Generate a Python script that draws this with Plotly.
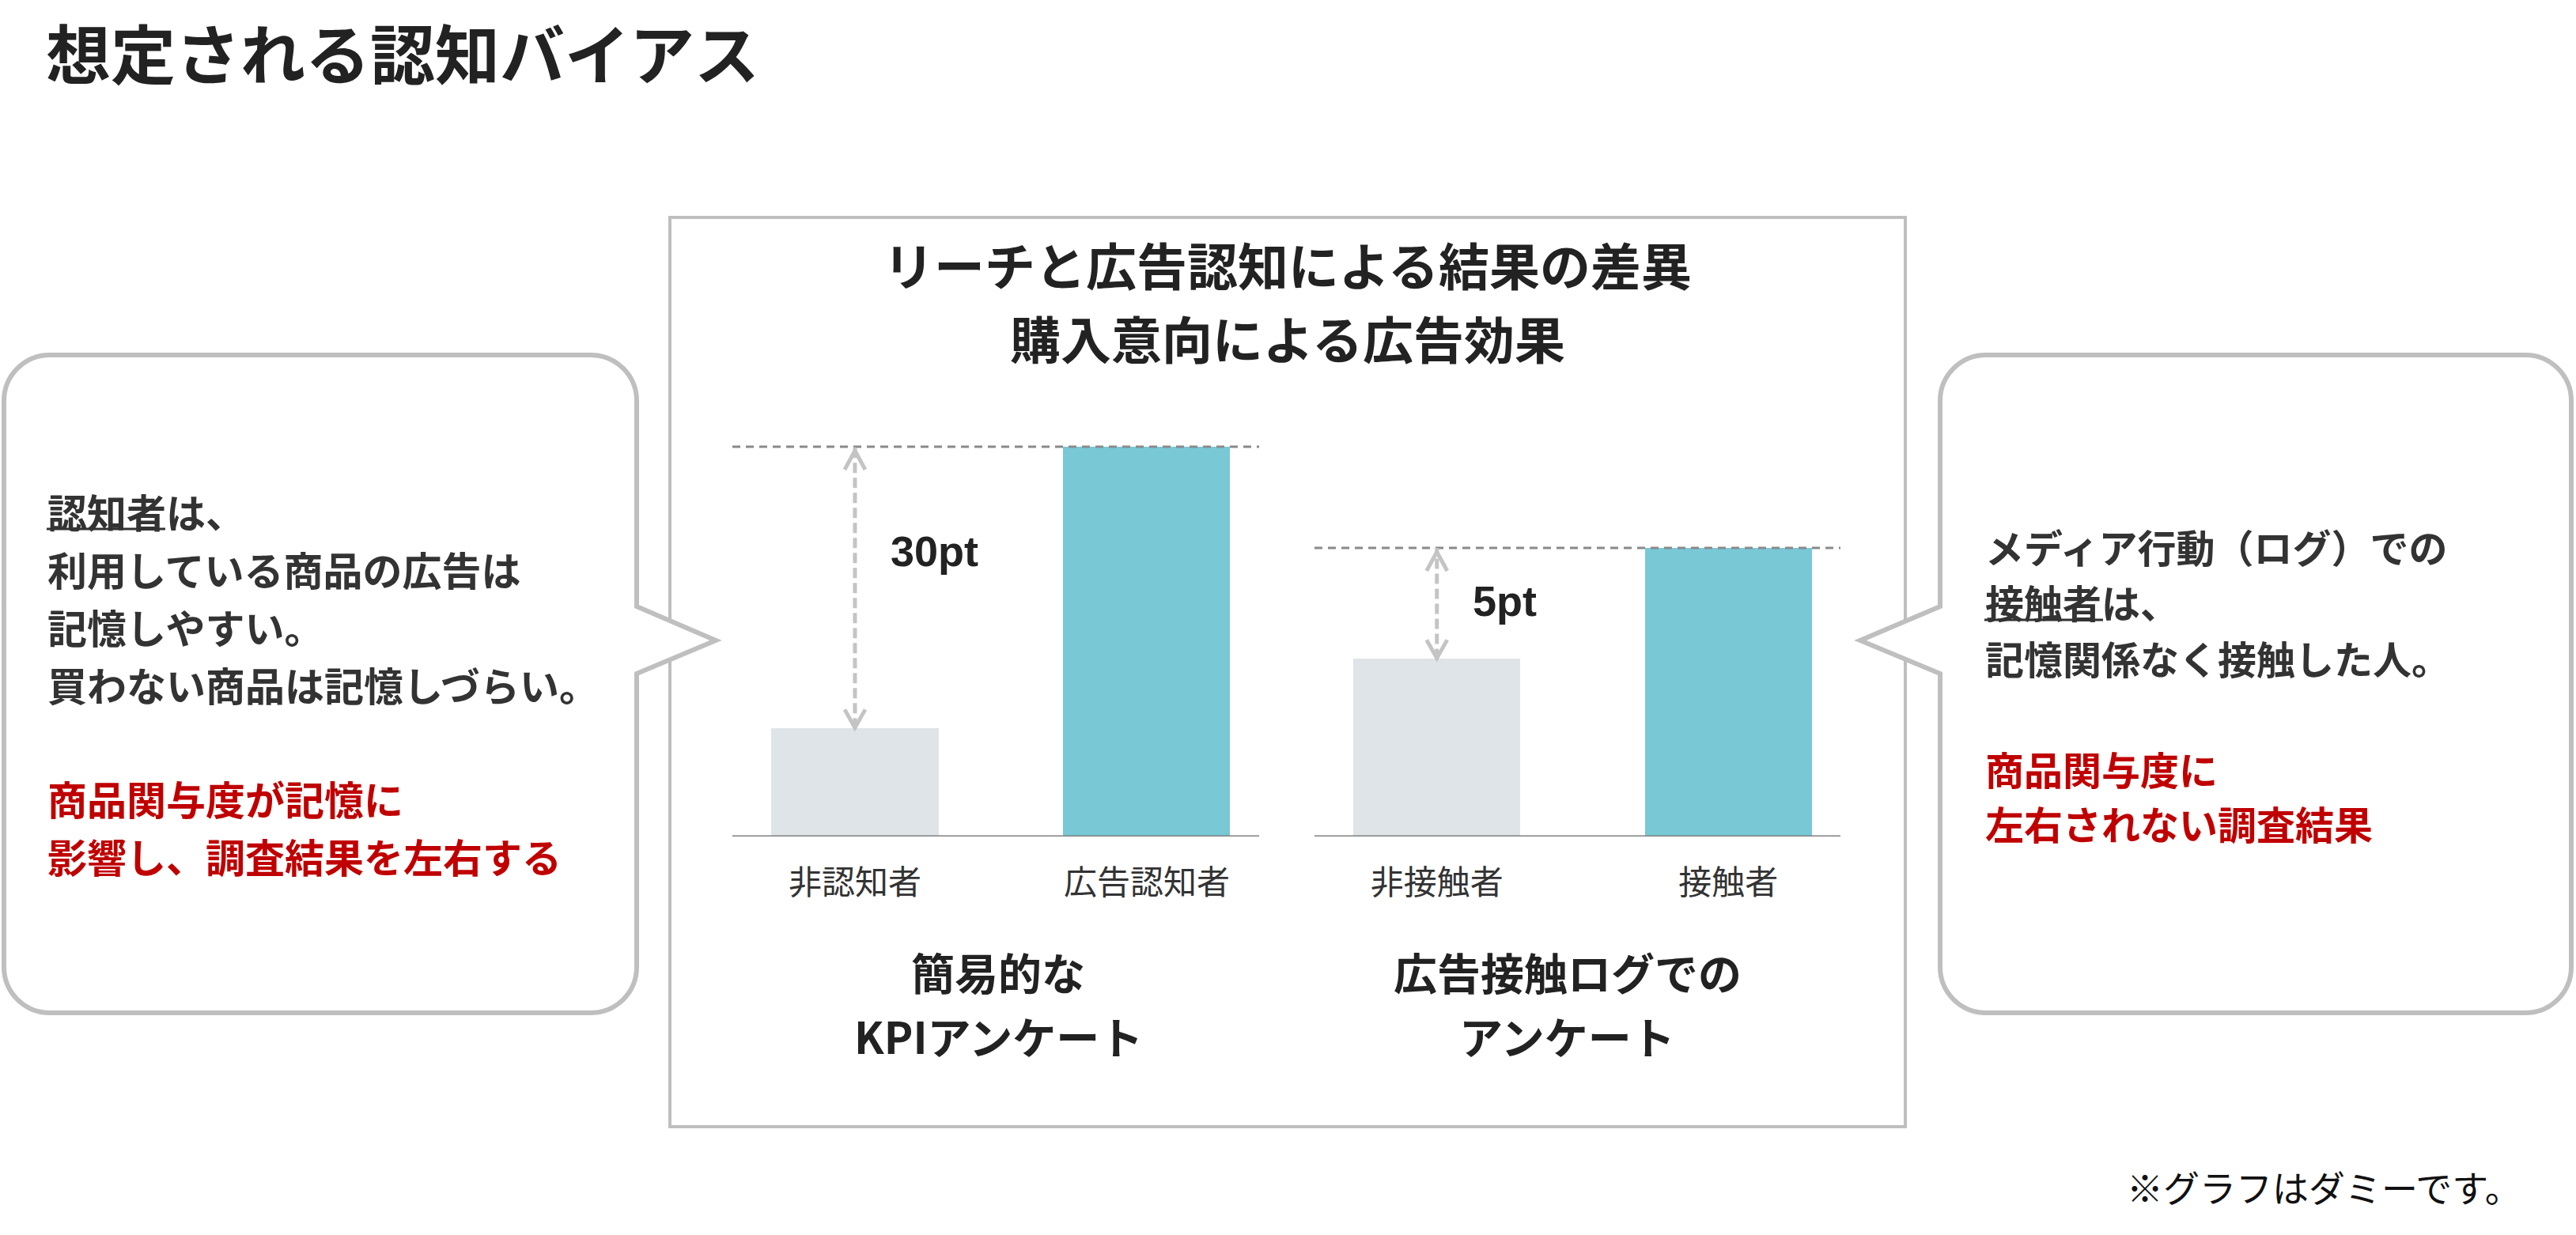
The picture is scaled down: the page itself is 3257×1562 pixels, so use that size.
import plotly.graph_objects as go

W, H = 3257, 1562

# ---------------- data ----------------
kpi_categories = ["非認知者", "広告認知者"]
kpi_values = [11.5, 41.5]
kpi_gap_label = "30pt"

log_categories = ["非接触者", "接触者"]
log_values = [8, 13]
log_gap_label = "5pt"

bar_colors = ["#dfe4e8", "#78c8d6"]

title_text = "想定される認知バイアス"
panel_title_lines = ["リーチと広告認知による結果の差異", "購入意向による広告効果"]
kpi_caption_lines = ["簡易的な", "KPIアンケート"]
log_caption_lines = ["広告接触ログでの", "アンケート"]
left_note_lines = ["認知者は、", "利用している商品の広告は", "記憶しやすい。", "買わない商品は記憶しづらい。"]
left_note_red = ["商品関与度が記憶に", "影響し、調査結果を左右する"]
right_note_lines = ["メディア行動（ログ）での", "接触者は、", "記憶関係なく接触した人。"]
right_note_red = ["商品関与度に", "左右されない調査結果"]
footnote_text = "※グラフはダミーです。"

# ---------------- helpers ----------------
JP = "Noto Sans CJK JP"
DARK = "#333333"
RED = "#c00000"
GRAY_LINE = "#bfbfbf"


def PX(x):
    return x / W


def PY(y):
    return 1 - y / H


def bubble_path(L, T, R, B, r, side, ty0, ty1, tipx, tipy):
    k = 0.5523 * r
    p = f"M {PX(L + r)},{PY(T)} L {PX(R - r)},{PY(T)} "
    p += f"C {PX(R - r + k)},{PY(T)} {PX(R)},{PY(T + r - k)} {PX(R)},{PY(T + r)} "
    if side == "right":
        p += f"L {PX(R)},{PY(ty0)} L {PX(tipx)},{PY(tipy)} L {PX(R)},{PY(ty1)} "
    p += f"L {PX(R)},{PY(B - r)} C {PX(R)},{PY(B - r + k)} {PX(R - r + k)},{PY(B)} {PX(R - r)},{PY(B)} "
    p += f"L {PX(L + r)},{PY(B)} C {PX(L + r - k)},{PY(B)} {PX(L)},{PY(B - r + k)} {PX(L)},{PY(B - r)} "
    if side == "left":
        p += f"L {PX(L)},{PY(ty1)} L {PX(tipx)},{PY(tipy)} L {PX(L)},{PY(ty0)} "
    p += f"L {PX(L)},{PY(T + r)} C {PX(L)},{PY(T + r - k)} {PX(L + r - k)},{PY(T)} {PX(L + r)},{PY(T)} Z"
    return p


fig = go.Figure()

fig.add_trace(go.Bar(x=kpi_categories, y=kpi_values, marker=dict(color=bar_colors, line=dict(width=0)),
                     width=0.572, xaxis="x", yaxis="y", hoverinfo="skip"))
fig.add_trace(go.Bar(x=log_categories, y=log_values, marker=dict(color=bar_colors, line=dict(width=0)),
                     width=0.572, xaxis="x2", yaxis="y2", hoverinfo="skip"))

y_dom = [PY(1058), PY(540)]
axis_common = dict(showgrid=False, zeroline=False, showline=False, ticks="", fixedrange=True)
fig.update_layout(
    width=W, height=H, autosize=False,
    margin=dict(l=0, r=0, t=0, b=0, pad=0),
    paper_bgcolor="white", plot_bgcolor="white",
    showlegend=False, bargap=0,
    font=dict(family=JP, color=DARK),
    xaxis=dict(domain=[PX(926), PX(1592)], type="category", range=[-0.42, 1.385],
               tickfont=dict(family=JP, size=42, color=DARK), ticklabelstandoff=30, **axis_common),
    yaxis=dict(domain=y_dom, range=[0, 43.6], visible=False, **axis_common),
    xaxis2=dict(domain=[PX(1662), PX(2327)], type="category", range=[-0.42, 1.385], anchor="y2",
                tickfont=dict(family=JP, size=42, color=DARK), ticklabelstandoff=30, **axis_common),
    yaxis2=dict(domain=y_dom, range=[0, 18.45], anchor="x2", visible=False, **axis_common),
)

shapes = []
# centre panel frame
shapes.append(dict(type="rect", xref="paper", yref="paper", x0=PX(847), x1=PX(2409), y0=PY(1425), y1=PY(275),
                   line=dict(color=GRAY_LINE, width=4), fillcolor="rgba(0,0,0,0)", layer="below"))
# speech bubbles
shapes.append(dict(type="path", xref="paper", yref="paper",
                   path=bubble_path(5, 449, 805, 1281, 58, "right", 767, 852, 905, 810),
                   line=dict(color=GRAY_LINE, width=6), fillcolor="white"))
shapes.append(dict(type="path", xref="paper", yref="paper",
                   path=bubble_path(2453, 449, 3251, 1281, 58, "left", 767, 852, 2352, 810),
                   line=dict(color=GRAY_LINE, width=6), fillcolor="white"))

# chart decorations: baseline, reference dashed line, gap arrows
for xa, ya, cats, vals in [("x", "y", kpi_categories, kpi_values), ("x2", "y2", log_categories, log_values)]:
    shapes.append(dict(type="line", xref=f"{xa} domain", yref=ya, x0=0, x1=1, y0=0, y1=0,
                       line=dict(color="#808080", width=3)))
    shapes.append(dict(type="line", xref=f"{xa} domain", yref=ya, x0=0, x1=1, y0=vals[1], y1=vals[1],
                       line=dict(color="#8a8a8a", width=3, dash="10px,7px")))
    shapes.append(dict(type="line", xref=xa, yref=ya, x0=cats[0], x1=cats[0], y0=vals[0], y1=vals[1],
                       line=dict(color="#c4c4c4", width=5, dash="13px,6px")))
    shapes.append(dict(type="path", xref=xa, yref=ya, xsizemode="pixel", ysizemode="pixel",
                       xanchor=cats[0], yanchor=vals[1], path="M -13,-29 L 0,-5 L 13,-29",
                       line=dict(color="#c4c4c4", width=5)))
    shapes.append(dict(type="path", xref=xa, yref=ya, xsizemode="pixel", ysizemode="pixel",
                       xanchor=cats[0], yanchor=vals[0], path="M -13,24 L 0,1 L 13,24",
                       line=dict(color="#c4c4c4", width=5)))

# underlines
shapes.append(dict(type="line", xref="paper", yref="paper", x0=PX(59), x1=PX(209), y0=PY(669), y1=PY(669),
                   line=dict(color=DARK, width=3)))
shapes.append(dict(type="line", xref="paper", yref="paper", x0=PX(2509), x1=PX(2659), y0=PY(784), y1=PY(784),
                   line=dict(color=DARK, width=3)))

annotations = []


def text(x, y, s, size, color=DARK, bold=True, xanchor="left", family=JP):
    annotations.append(dict(xref="paper", yref="paper", x=PX(x), y=PY(y), text=s, showarrow=False,
                            xanchor=xanchor, yanchor="middle",
                            font=dict(family=family, size=size, color=color, weight="bold" if bold else "normal")))


text(56, 65, title_text, 82, color="#222222")
for i, line in enumerate(panel_title_lines):
    text(1628, 333 + i * 93, line, 64, color="#222222", xanchor="center")
for i, line in enumerate(kpi_caption_lines):
    text(1262, 1228 + i * 81, line, 55, color="#222222", xanchor="center")
for i, line in enumerate(log_caption_lines):
    text(1982, 1228 + i * 81, line, 55, color="#222222", xanchor="center")

for i, line in enumerate(left_note_lines):
    text(58, 646 + i * 73, line, 50)
for i, line in enumerate(left_note_red):
    text(58, 1009 + i * 73, line, 50, color=RED)
for i, line in enumerate(right_note_lines):
    text(2508, 691 + i * 70, line, 49)
for i, line in enumerate(right_note_red):
    text(2508, 971 + i * 69, line, 49, color=RED)

text(3190, 1500, footnote_text, 46, color="#111111", bold=False, xanchor="right")

# gap labels anchored to the charts
for xa, ya, cats, ylab, lab in [("x", "y", kpi_categories, 30.4, kpi_gap_label),
                                ("x2", "y2", log_categories, 10.6, log_gap_label)]:
    annotations.append(dict(xref=xa, yref=ya, x=cats[0], y=ylab, text=lab, showarrow=False,
                            xanchor="left", yanchor="middle", xshift=43,
                            font=dict(family="Liberation Sans", size=54, color="#222222", weight="bold")))

fig.update_layout(shapes=shapes, annotations=annotations)
fig.write_html("out.html")
